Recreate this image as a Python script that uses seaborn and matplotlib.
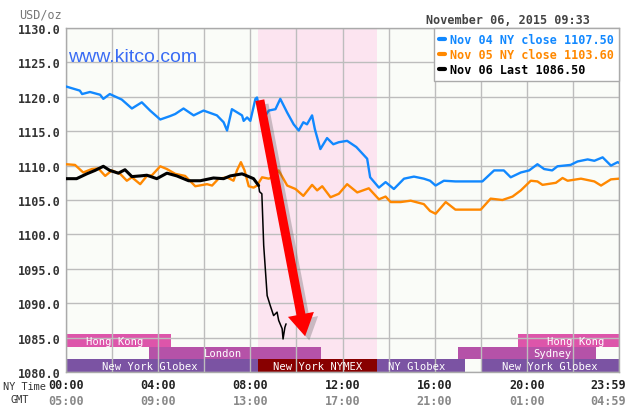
import matplotlib
matplotlib.use("Agg")
import matplotlib.pyplot as plt
from matplotlib.lines import Line2D
from matplotlib.patches import FancyArrowPatch, ArrowStyle
import matplotlib.patheffects as pe
import matplotlib.transforms as mtrans
import seaborn as sns
import pandas as pd

# ---------------- data ----------------
blue_h = [0, 0.6, 0.7, 1.04, 1.48, 1.62, 1.9, 2.42, 2.86, 3.29,
          3.65, 4.09, 4.52, 4.74, 5.1, 5.54, 5.97, 6.55, 6.84, 6.99,
          7.2, 7.64, 7.71, 7.86, 8.0, 8.22, 8.29, 8.51, 8.8, 9.09,
          9.3, 9.6, 9.88, 10.1, 10.3, 10.46, 10.68, 10.8, 11.04, 11.33,
          11.6, 11.84, 12.2, 12.6, 13.07, 13.2, 13.58, 13.87, 14.23, 14.67,
          15.1, 15.53, 15.8, 16.04, 16.4, 16.9, 18.07, 18.58, 19.0, 19.3,
          19.74, 20.1, 20.46, 20.75, 21.1, 21.33, 21.9, 22.2, 22.64, 22.93,
          23.29, 23.65, 23.94, 24.0]
blue_v = [1121.5, 1120.9, 1120.4, 1120.7, 1120.3, 1119.7, 1120.4, 1119.6, 1118.3, 1119.2,
          1118.0, 1116.7, 1117.2, 1117.5, 1118.3, 1117.3, 1118.0, 1117.3, 1116.3, 1115.1,
          1118.2, 1117.3, 1116.5, 1117.0, 1116.5, 1119.7, 1119.9, 1116.5, 1118.0, 1118.2,
          1119.7, 1117.7, 1116.0, 1115.1, 1116.3, 1116.0, 1117.3, 1115.3, 1112.4, 1114.0,
          1113.1, 1113.4, 1113.6, 1112.7, 1111.0, 1108.3, 1106.8, 1107.6, 1106.6, 1108.1,
          1108.4, 1108.1, 1107.8, 1107.1, 1107.8, 1107.7, 1107.7, 1109.3, 1109.3, 1108.3,
          1109.0, 1109.3, 1110.2, 1109.5, 1109.3, 1109.9, 1110.1, 1110.6, 1110.9, 1110.7,
          1111.2, 1110.0, 1110.5, 1110.4]

orange_h = [0, 0.39, 0.75, 1.12, 1.4, 1.7, 1.99, 2.35, 2.64, 2.86,
            3.22, 3.51, 3.73, 4.09, 4.38, 4.74, 5.17, 5.61, 6.12, 6.34,
            6.62, 6.99, 7.27, 7.42, 7.59, 7.75, 7.93, 8.14, 8.29, 8.51,
            8.8, 9.09, 9.23, 9.6, 9.96, 10.3, 10.68, 10.9, 11.12, 11.48,
            11.84, 12.2, 12.64, 13.14, 13.58, 13.87, 14.09, 14.52, 14.96, 15.53,
            15.8, 16.04, 16.48, 16.9, 18.0, 18.43, 18.94, 19.38, 19.74, 20.17,
            20.46, 20.68, 21.26, 21.55, 21.77, 22.35, 22.93, 23.22, 23.65, 24.0]
orange_v = [1110.2, 1110.1, 1109.0, 1109.5, 1109.6, 1108.5, 1109.3, 1108.8, 1107.8, 1108.3,
            1107.3, 1108.5, 1108.6, 1109.9, 1109.5, 1108.8, 1108.5, 1107.0, 1107.3, 1107.1,
            1108.1, 1108.3, 1107.8, 1109.3, 1110.5, 1109.3, 1107.0, 1106.8, 1107.1, 1108.3,
            1108.1, 1108.5, 1109.3, 1107.1, 1106.6, 1105.6, 1107.2, 1106.4, 1107.0, 1105.4,
            1105.9, 1107.3, 1106.1, 1106.7, 1105.1, 1105.5, 1104.7, 1104.7, 1104.9, 1104.4,
            1103.4, 1103.0, 1104.7, 1103.6, 1103.6, 1105.2, 1105.0, 1105.5, 1106.4, 1107.8,
            1107.7, 1107.2, 1107.5, 1108.2, 1107.8, 1108.1, 1107.7, 1107.1, 1108.0, 1108.1]

black_h = [0, 0.46, 0.9, 1.26, 1.62, 1.9, 2.27, 2.56, 2.86, 3.22,
           3.51, 3.94, 4.38, 4.81, 5.32, 5.83, 6.4, 6.84, 7.13, 7.64,
           7.86, 8.14, 8.36, 8.4, 8.5, 8.58, 8.65, 8.73, 8.87, 9.01,
           9.16, 9.23, 9.38, 9.42, 9.5, 9.55]
black_v = [1108.1, 1108.1, 1108.8, 1109.3, 1109.9, 1109.3, 1108.9, 1109.4, 1108.4, 1108.5,
           1108.6, 1108.1, 1108.9, 1108.5, 1107.8, 1107.8, 1108.2, 1108.1, 1108.5, 1108.8,
           1108.5, 1108.1, 1107.1, 1106.2, 1105.9, 1098.4, 1095.0, 1091.1, 1089.6, 1088.2,
           1088.7, 1087.5, 1086.3, 1084.8, 1086.5, 1087.0]
black_break = 22  # index where the steep sell-off begins

legend_labels = ["Nov 04 NY close 1107.50", "Nov 05 NY close 1103.60", "Nov 06 Last 1086.50"]
title_text = "November 06, 2015 09:33"

ny_ticks = [0, 4, 8, 12, 16, 20, 23.983]
ny_labels = ["00:00", "04:00", "08:00", "12:00", "16:00", "20:00", "23:59"]
gmt_labels = ["05:00", "09:00", "13:00", "17:00", "21:00", "01:00", "04:59"]
y_ticks = [1080, 1085, 1090, 1095, 1100, 1105, 1110, 1115, 1120, 1125, 1130]

nymex_start, nymex_end = 8.333, 13.5

# sessions: (name, start, end, row, label_x)
session_names = ["Hong Kong", "London", "New York Globex", "New York NYMEX", "NY Globex",
                 "New York Globex", "Sydney", "Hong Kong"]
session_start = [0.0, 3.6, 0.0, 8.333, 13.5, 18.0, 17.0, 19.6]
session_end = [4.55, 11.05, 8.333, 13.5, 17.3, 24.0, 23.0, 24.0]
session_row = [2, 1, 0, 0, 0, 0, 1, 2]
session_label_x = [2.1, 6.8, 3.65, 10.9, 15.2, 21.0, 21.1, 22.1]
session_colors = ["#dd55aa", "#b552a8", "#7b53a3", "#880000", "#7b53a3", "#7b53a3", "#b552a8", "#dd55aa"]

# ---------------- style ----------------
sns.set_style("white")
plt.rcParams["font.family"] = ["DejaVu Sans Mono", "DejaVu Sans"]

fig = plt.figure(figsize=(6.29, 4.14), dpi=100)
ax = fig.add_axes([66 / 629, 1 - 373 / 414, (619 - 66) / 629, (373 - 29) / 414])
ax.set_facecolor("#fafcf8")

ax.axvspan(nymex_start, nymex_end, color="#fce4f0", zorder=0.2, lw=0)

row_h = 1.85
for name, s, e, r, lx, c in zip(session_names, session_start, session_end,
                                session_row, session_label_x, session_colors):
    ax.bar(s, row_h, width=e - s, bottom=1080 + r * row_h, align="edge",
           color=c, lw=0, zorder=0.3)
    ax.text(lx, 1080 + r * row_h + row_h / 2 - 0.05, name, color="white",
            fontsize=7.6, ha="center", va="center", zorder=3,
            family=["DejaVu Sans Mono"])

df_b = pd.DataFrame({"h": blue_h, "v": blue_v})
df_o = pd.DataFrame({"h": orange_h, "v": orange_v})
df_k1 = pd.DataFrame({"h": black_h[:black_break + 1], "v": black_v[:black_break + 1]})
df_k2 = pd.DataFrame({"h": black_h[black_break:], "v": black_v[black_break:]})

sns.lineplot(data=df_b, x="h", y="v", ax=ax, color="#1188ff", lw=1.7,
             estimator=None, sort=False, zorder=4)
sns.lineplot(data=df_o, x="h", y="v", ax=ax, color="#ff8800", lw=1.7,
             estimator=None, sort=False, zorder=4)
sns.lineplot(data=df_k1, x="h", y="v", ax=ax, color="black", lw=2.2,
             estimator=None, sort=False, zorder=5)
sns.lineplot(data=df_k2, x="h", y="v", ax=ax, color="black", lw=1.1,
             estimator=None, sort=False, zorder=5)

ax.set_xlim(0, 24)
ax.set_ylim(1080, 1130)
ax.set_xticks(range(0, 25, 2), minor=False)
ax.set_yticks(y_ticks)
ax.grid(True, color="#bdbdbd", lw=1.0)
ax.set_axisbelow(True)
for gl in ax.get_xgridlines() + ax.get_ygridlines():
    gl.set_zorder(0.5)

ax.set_xticklabels([])
ax.set_yticklabels([f"{t:.1f}" for t in y_ticks], fontsize=8.5, fontweight="bold",
                   color="#333333")
ax.tick_params(axis="both", length=0, pad=4)
ax.set_xlabel("")
ax.set_ylabel("")
for sp in ax.spines.values():
    sp.set_color("#aaaaaa")
    sp.set_linewidth(1)

trans = mtrans.blended_transform_factory(ax.transData, fig.transFigure)
for i, (t, a, b) in enumerate(zip(ny_ticks, ny_labels, gmt_labels)):
    last = i == len(ny_ticks) - 1
    xx = 24.3 if last else t
    ha = "right" if last else "center"
    ax.text(xx, 1 - 386 / 414, a, transform=trans, ha=ha, va="center",
            fontsize=8.5, fontweight="bold", color="#222222", clip_on=False)
    ax.text(xx, 1 - 402 / 414, b, transform=trans, ha=ha, va="center",
            fontsize=8.5, fontweight="bold", color="#888888", clip_on=False)
fig.text(3 / 629, 1 - 387 / 414, "NY Time", ha="left", va="center",
         fontsize=7.4, color="#333333")
fig.text(20 / 629, 1 - 400 / 414, "GMT", ha="center", va="center",
         fontsize=7.4, color="#333333")

fig.text(41 / 629, 1 - 15 / 414, "USD/oz", ha="center", va="center",
         fontsize=8.5, color="#777777")
fig.text(590 / 629, 1 - 21 / 414, title_text, ha="right", va="center",
         fontsize=8.5, fontweight="bold", color="#444444")

ax.text(0.004, 1 - (57 - 29) / 344, "www.kitco.com", transform=ax.transAxes,
        ha="left", va="center", fontsize=14, color="#3a6cf4",
        family=["Liberation Sans", "DejaVu Sans"], zorder=6)

# legend
handles = [Line2D([0], [0], color=c, lw=3) for c in ["#1188ff", "#ff8800", "black"]]
leg = ax.legend(handles, legend_labels, loc="upper right", bbox_to_anchor=(1, 1),
                borderaxespad=0, frameon=True, fancybox=False, framealpha=1,
                edgecolor="#aaaaaa", handlelength=0.5, handletextpad=0.4,
                labelspacing=0.15, borderpad=0.45,
                prop={"family": "DejaVu Sans Mono", "weight": "bold", "size": 8.5},
                labelcolor=["#1188ff", "#ff8800", "black"])
leg.set_zorder(7)
leg.get_frame().set_linewidth(1)

# red arrow
arrow = FancyArrowPatch((8.39, 1119.9), (10.4, 1084.8),
                        arrowstyle=ArrowStyle.Simple(head_length=16, head_width=19, tail_width=6.5),
                        mutation_scale=1, color="#ff0000", lw=0, zorder=8,
                        path_effects=[pe.SimplePatchShadow(offset=(3, -3), alpha=0.3, shadow_rgbFace="#555555"),
                                      pe.Normal()])
ax.add_patch(arrow)

fig.savefig("out.png", dpi=100)
